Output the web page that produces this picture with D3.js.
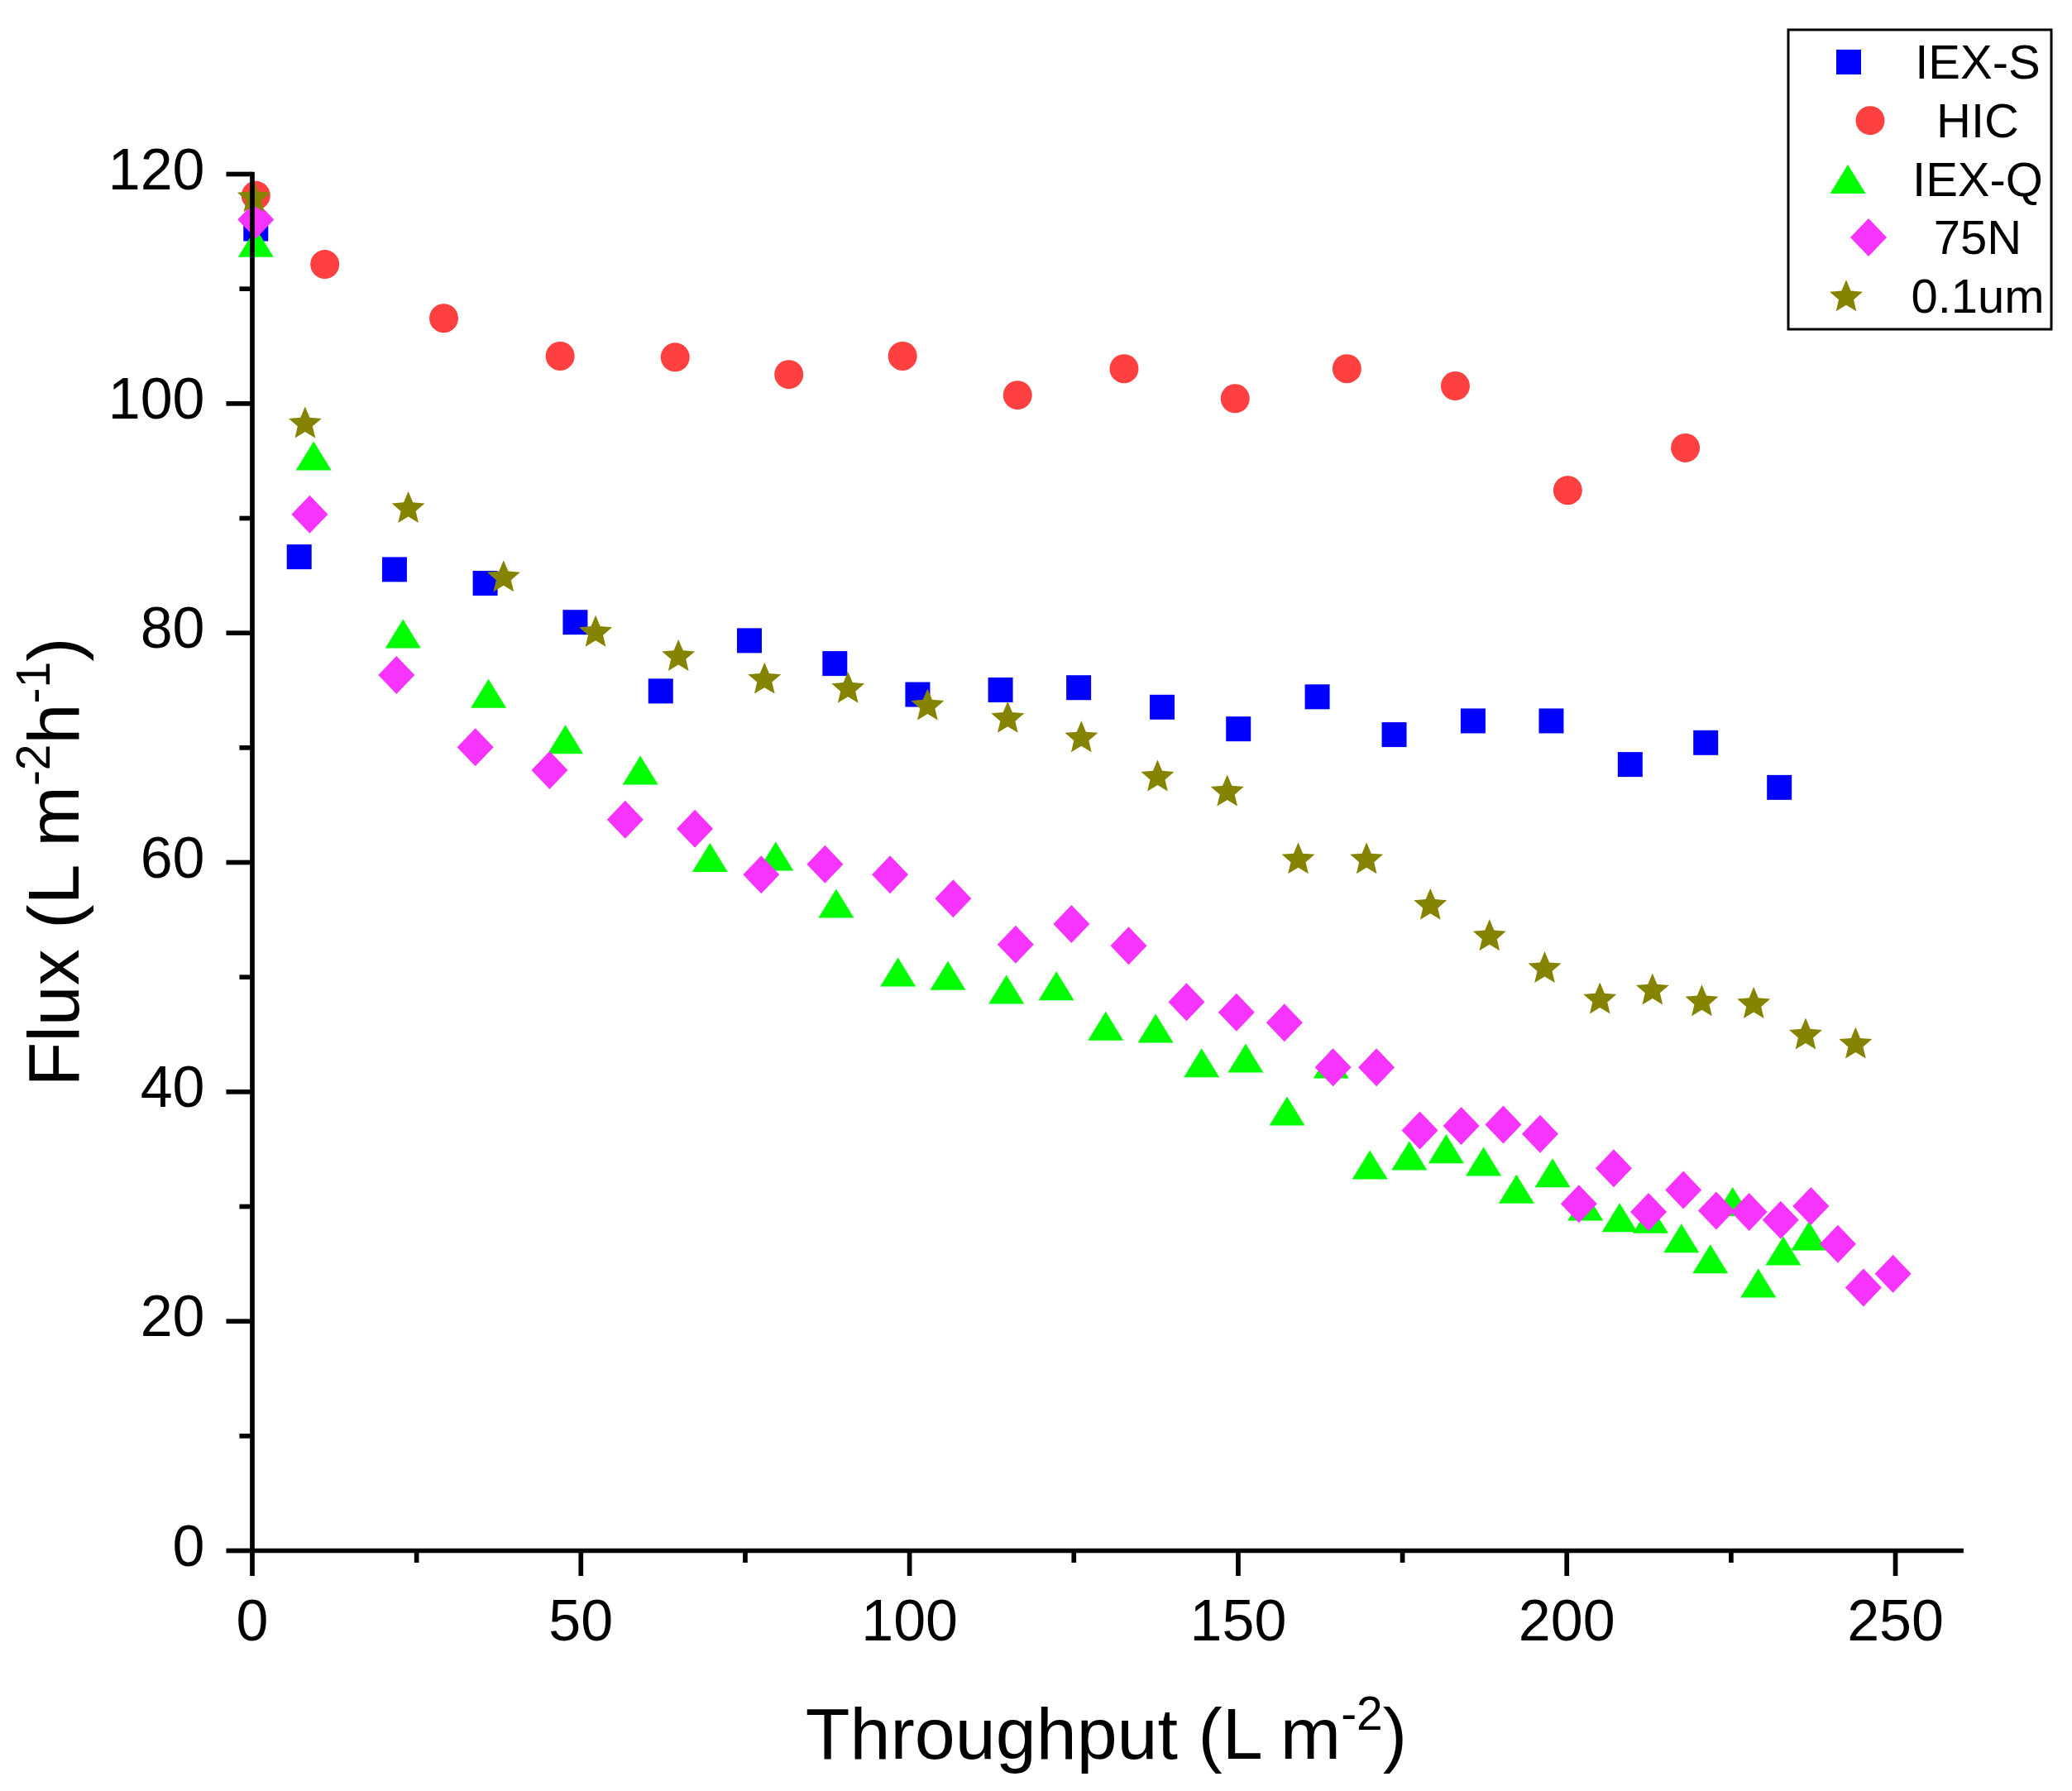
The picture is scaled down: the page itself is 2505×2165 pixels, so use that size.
<!DOCTYPE html>
<html>
<head>
<meta charset="utf-8">
<script src="https://cdn.jsdelivr.net/npm/d3@7"></script>
<style>
  body { margin: 0; background: #fff; }
  text { font-family: "Liberation Sans", Arial, sans-serif; fill: #000; }
</style>
</head>
<body>
<div id="chart"></div>
<script>
// Series names (legend order = drawing order)
var seriesNames = ["IEX-S", "HIC", "IEX-Q", "75N", "0.1um"];

// Throughput (L m-2) and flux (L m-2 h-1)
var iexsX = [0.6, 7.2, 21.7, 35.5, 49.2, 62.2, 75.7, 88.7, 101.3, 113.9, 125.8, 138.5, 150.1, 162.1, 173.8, 185.8, 197.7, 209.7, 221.2, 232.4];
var iexsY = [115.2, 86.6, 85.5, 84.3, 80.9, 74.9, 79.3, 77.3, 74.6, 75.0, 75.2, 73.5, 71.6, 74.4, 71.1, 72.3, 72.3, 68.5, 70.4, 66.5];

var hicX = [0.6, 11.1, 29.2, 46.9, 64.4, 81.7, 99.0, 116.5, 132.7, 149.6, 166.6, 183.1, 200.2, 218.1];
var hicY = [118.1, 112.1, 107.4, 104.1, 104.0, 102.5, 104.1, 100.7, 103.0, 100.4, 103.0, 101.5, 92.4, 96.1];

var iexqX = [0.6, 9.4, 23.0, 36.0, 47.7, 59.1, 69.7, 79.7, 88.9, 98.3, 105.9, 114.8, 122.4, 129.9, 137.5, 144.5, 151.2, 157.5, 164.2, 170.1, 176.1, 181.7, 187.4, 192.4, 197.9, 202.9, 208.1, 212.8, 217.5, 221.9, 225.3, 229.2, 233.0, 236.9];
var iexqY = [114.0, 95.4, 79.9, 74.7, 70.7, 68.0, 60.4, 60.5, 56.4, 50.4, 50.1, 48.9, 49.2, 45.7, 45.5, 42.5, 42.9, 38.3, 42.4, 33.6, 34.4, 35.0, 33.9, 31.5, 32.9, 30.0, 29.0, 28.9, 27.2, 25.4, 30.4, 23.3, 26.1, 27.4];

var n75X = [0.6, 8.8, 22.0, 34.0, 45.3, 56.8, 67.4, 77.5, 87.2, 97.1, 106.7, 116.2, 124.7, 133.4, 142.2, 149.8, 157.1, 164.5, 171.1, 177.7, 184.0, 190.4, 196.0, 201.9, 207.2, 212.5, 217.8, 222.8, 227.8, 232.6, 237.2, 241.3, 245.2, 249.7];
var n75Y = [116.0, 90.3, 76.3, 70.0, 68.0, 63.7, 62.9, 58.9, 59.8, 58.9, 56.8, 52.8, 54.6, 52.7, 47.8, 46.9, 46.0, 42.1, 42.1, 36.6, 37.0, 37.1, 36.3, 30.2, 33.3, 29.5, 31.4, 29.6, 29.5, 28.8, 30.0, 26.7, 22.9, 24.1];

var umX = [0.3, 8.1, 23.8, 38.3, 52.3, 64.9, 78.0, 90.7, 102.8, 115.0, 126.2, 137.8, 148.4, 159.2, 169.6, 179.3, 188.3, 196.7, 205.1, 213.1, 220.6, 228.5, 236.4, 244.0];
var umY = [118.0, 98.3, 90.9, 84.9, 80.1, 78.0, 76.0, 75.2, 73.7, 72.6, 70.9, 67.5, 66.2, 60.3, 60.3, 56.3, 53.6, 50.8, 48.1, 48.9, 47.9, 47.7, 45.0, 44.2];

// Axis ticks
var xTicks = [0, 50, 100, 150, 200, 250];
var xMinorTicks = [25, 75, 125, 175, 225];
var yTicks = [0, 20, 40, 60, 80, 100, 120];
var yMinorTicks = [10, 30, 50, 70, 90, 110];

// Marker styles per series
var colors = ["#0000ff", "#ff4040", "#00ff00", "#f633ff", "#848400"];
var starPath = (function () {
  var pts = [];
  for (var i = 0; i < 10; i++) {
    var r = i % 2 === 0 ? 21 : 9.5;
    var a = -Math.PI / 2 + (i * Math.PI) / 5;
    pts.push([r * Math.cos(a), r * Math.sin(a) + 1.5]);
  }
  return "M" + pts.join("L") + "Z";
})();
var shapes = [
  d3.symbol().type(d3.symbolSquare).size(900)(),
  d3.symbol().type(d3.symbolCircle).size(962)(),
  "M0,-17.5L21.5,17.5L-21.5,17.5Z",
  "M0,-23L22,0L0,23L-22,0Z",
  starPath
];
var legendSymbolX = [2235, 2261, 2234, 2259, 2232];

var seriesX = [iexsX, hicX, iexqX, n75X, umX];
var seriesY = [iexsY, hicY, iexqY, n75Y, umY];

var margin = { top: 210, right: 134.5, bottom: 291, left: 304.5 },
  width = 2505 - margin.left - margin.right,
  height = 2165 - margin.top - margin.bottom;

var svg = d3
  .select("#chart")
  .append("svg")
  .attr("width", 2505)
  .attr("height", 2165)
  .style("display", "block");

svg.append("rect").attr("width", 2505).attr("height", 2165).attr("fill", "#fff");

var g = svg
  .append("g")
  .attr("transform", "translate(" + margin.left + "," + margin.top + ")");

var x = d3.scaleLinear().domain([0, 260]).range([0, width]);
var y = d3.scaleLinear().domain([0, 120]).range([height, 0]);

// Points, one group per series
seriesNames.forEach(function (name, i) {
  var pts = seriesX[i].map(function (v, j) {
    return { x: v, y: seriesY[i][j] };
  });
  g.append("g")
    .selectAll("path")
    .data(pts)
    .enter()
    .append("path")
    .attr("d", shapes[i])
    .attr("transform", function (d) {
      return "translate(" + x(d.x) + "," + y(d.y) + ")";
    })
    .attr("fill", colors[i]);
});

// Axes
function styleAxis(sel, fontSize) {
  sel.selectAll("path.domain")
    .attr("stroke", "#000")
    .attr("stroke-width", 5.7)
    .attr("stroke-linecap", "square");
  sel.selectAll(".tick line").attr("stroke", "#000").attr("stroke-width", 5.7);
  sel.selectAll(".tick text")
    .attr("fill", "#000")
    .style("font-size", fontSize + "px")
    .style("font-family", '"Liberation Sans", Arial, sans-serif');
}

var xMinor = g.append("g")
  .attr("transform", "translate(0," + height + ")")
  .call(d3.axisBottom(x).tickValues(xMinorTicks).tickSize(15).tickSizeOuter(0).tickFormat(""));
xMinor.select("path.domain").remove();
styleAxis(xMinor, 70);

var yMinor = g.append("g")
  .call(d3.axisLeft(y).tickValues(yMinorTicks).tickSize(15).tickSizeOuter(0).tickFormat(""));
yMinor.select("path.domain").remove();
styleAxis(yMinor, 70);

var xAxisG = g.append("g")
  .attr("transform", "translate(0," + height + ")")
  .call(d3.axisBottom(x).tickValues(xTicks).tickSize(31).tickSizeOuter(0).tickPadding(28));
styleAxis(xAxisG, 70);

var yAxisG = g.append("g")
  .call(d3.axisLeft(y).tickValues(yTicks).tickSize(31).tickSizeOuter(0).tickPadding(26));
styleAxis(yAxisG, 70);
yAxisG.selectAll(".tick text").attr("dy", "0.26em");

// Axis titles
var xTitle = svg.append("text")
  .attr("x", margin.left + width / 2)
  .attr("y", 2126)
  .attr("text-anchor", "middle")
  .style("font-size", "88px");
xTitle.append("tspan").text("Throughput (L m");
xTitle.append("tspan").attr("dy", -35).style("font-size", "57px").text("-2");
xTitle.append("tspan").attr("dy", 35).text(")");

var yTitle = svg.append("text")
  .attr("transform", "translate(95," + (margin.top + height / 2) + ") rotate(-90)")
  .attr("text-anchor", "middle")
  .style("font-size", "88px");
yTitle.append("tspan").text("Flux (L m");
yTitle.append("tspan").attr("dy", -35).style("font-size", "57px").text("-2");
yTitle.append("tspan").attr("dy", 35).text("h");
yTitle.append("tspan").attr("dy", -35).style("font-size", "57px").text("-1");
yTitle.append("tspan").attr("dy", 35).text(")");

// Legend
var legend = svg.append("g");
legend.append("rect")
  .attr("x", 2162)
  .attr("y", 36)
  .attr("width", 318)
  .attr("height", 362)
  .attr("fill", "#fff")
  .attr("stroke", "#000")
  .attr("stroke-width", 3);

seriesNames.forEach(function (name, i) {
  var cy = 75 + i * 70.7;
  legend.append("path")
    .attr("d", shapes[i])
    .attr("transform", "translate(" + legendSymbolX[i] + "," + cy + ")")
    .attr("fill", colors[i]);
  legend.append("text")
    .attr("x", 2391)
    .attr("y", cy)
    .attr("dy", "0.35em")
    .attr("text-anchor", "middle")
    .style("font-size", "58px")
    .text(name);
});
</script>
</body>
</html>
